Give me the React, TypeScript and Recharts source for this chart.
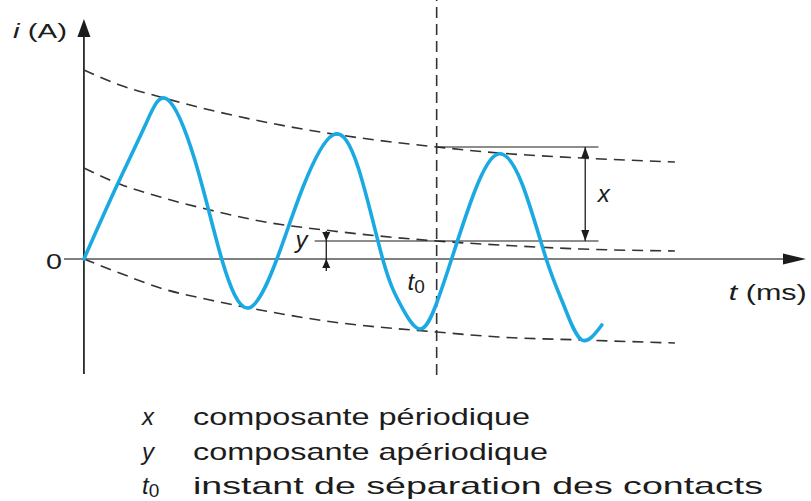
import React from "react";
import { ComposedChart, Line, XAxis, YAxis, ReferenceLine, ReferenceDot } from "recharts";

// short-circuit current, t in ms and i in A
const waveT = [
  0, 4.0, 7.4, 10.0, 13.4, 16.6, 19.8, 23.25, 26.4, 30.0, 33.1, 36.0,
  38.1, 40.5, 42.5, 44.3, 47.1, 49.9, 52.8, 55.7, 57.9, 60.0, 62.4,
];
const waveI = [
  0, 7.4, 13.4, 16.0, 9.8, 0, -4.9, 0, 7.2, 12.4, 9.0, 0,
  -4.5, -7.0, -4.4, 0, 6.8, 10.5, 7.5, 0, -4.8, -8.1, -6.6,
];

// envelopes: peak, aperiodic (DC) part, trough
const envT = [0, 4.3, 9.2, 15.2, 21.2, 30, 42.5, 50, 60, 71.2];
const envUpper = [18.9, 17.4, 16.2, 14.9, 13.8, 12.5, 11.2, 10.6, 10.1, 9.7];
const envMid = [9.1, 7.5, 6.2, 4.9, 3.8, 2.8, 1.8, 1.4, 1.0, 0.8];
const envLower = [0, -1.4, -2.9, -4.1, -5.1, -6.3, -7.3, -7.8, -8.1, -8.4];

// contact separation instant and the envelope values there
const T0 = 42.5;
const PEAK_AT_T0 = 11.2;
const DC_AT_T0 = 1.8;

const legendRows = [
  { sym: "x", sub: "", text: "composante périodique", len: 337 },
  { sym: "y", sub: "", text: "composante apériodique", len: 355 },
  { sym: "t", sub: "0", text: "instant de séparation des contacts", len: 570 },
];

const wave = waveT.map((t, k) => ({ t, i: waveI[k] }));
const envelopes = envT.map((t, k) => ({ t, up: envUpper[k], mid: envMid[k], low: envLower[k] }));

const FONT = '"Liberation Sans", Arial, sans-serif';
const INK = "#1c1c1c";
const BLUE = "#1aa9e2";
const DASH = "#333333";

type Dir = "up" | "down" | "right";

function arrowhead(dir: Dir, len: number, half: number) {
  return (p: any) => {
    const { cx, cy } = p;
    let pts: number[][];
    if (dir === "up") pts = [[cx, cy], [cx - half, cy + len], [cx + half, cy + len]];
    else if (dir === "down") pts = [[cx, cy], [cx - half, cy - len], [cx + half, cy - len]];
    else pts = [[cx, cy], [cx - len, cy - half], [cx - len, cy + half]];
    return <polygon points={pts.map((q) => q.join(",")).join(" ")} fill={INK} />;
  };
}

function tag(content: React.ReactNode, opts: { size?: number; italic?: boolean; len?: number; anchor?: string } = {}) {
  return (p: any) => (
    <text
      x={p.cx}
      y={p.cy}
      fontFamily={FONT}
      fontSize={opts.size ?? 22}
      fontStyle={opts.italic ? "italic" : "normal"}
      fill={INK}
      textAnchor={opts.anchor ?? "start"}
      textLength={opts.len}
      lengthAdjust={opts.len ? "spacingAndGlyphs" : undefined}
    >
      {content}
    </text>
  );
}

const envLine = { type: "monotone" as const, stroke: DASH, strokeWidth: 1.6, strokeDasharray: "11 7", dot: false, activeDot: false, isAnimationActive: false };

export default function App() {
  return (
    <div style={{ position: "absolute", left: 0, top: 0, width: 811, height: 501, background: "#fff" }}>
      <ComposedChart width={811} height={501} margin={{ top: 19, right: 5, bottom: 122, left: 64 }}>
        <XAxis type="number" dataKey="t" domain={[-2.4, 87]} hide allowDataOverflow />
        <YAxis type="number" domain={[-12, 24]} hide allowDataOverflow />

        {/* axes */}
        <ReferenceLine segment={[{ x: -2.4, y: 0 }, { x: 84.3, y: 0 }]} stroke="#555" strokeWidth={1.7} ifOverflow="visible" />
        <ReferenceLine segment={[{ x: 0, y: -11.5 }, { x: 0, y: 22.4 }]} stroke={INK} strokeWidth={1.7} ifOverflow="visible" />
        <ReferenceDot x={0} y={24} r={0} ifOverflow="visible" shape={arrowhead("up", 18, 6.5)} />
        <ReferenceDot x={87} y={0} r={0} ifOverflow="visible" shape={arrowhead("right", 23, 5.5)} />

        {/* separation instant */}
        <ReferenceLine
          segment={[{ x: T0, y: -11.6 }, { x: T0, y: 26 }]}
          stroke={DASH}
          strokeWidth={1.6}
          strokeDasharray="11 6"
          ifOverflow="visible"
        />

        <Line data={envelopes} dataKey="up" {...envLine} />
        <Line data={envelopes} dataKey="mid" {...envLine} />
        <Line data={envelopes} dataKey="low" {...envLine} />

        {/* x and y dimension marks */}
        <ReferenceLine segment={[{ x: T0, y: PEAK_AT_T0 }, { x: 62, y: PEAK_AT_T0 }]} stroke={INK} strokeWidth={1.2} ifOverflow="visible" />
        <ReferenceLine segment={[{ x: 27.8, y: DC_AT_T0 }, { x: 62, y: DC_AT_T0 }]} stroke={INK} strokeWidth={1.2} ifOverflow="visible" />
        <ReferenceLine segment={[{ x: 60.4, y: DC_AT_T0 }, { x: 60.4, y: PEAK_AT_T0 }]} stroke={INK} strokeWidth={1.3} ifOverflow="visible" />
        <ReferenceDot x={60.4} y={PEAK_AT_T0} r={0} ifOverflow="visible" shape={arrowhead("up", 11, 4)} />
        <ReferenceDot x={60.4} y={DC_AT_T0} r={0} ifOverflow="visible" shape={arrowhead("down", 11, 4)} />
        <ReferenceLine segment={[{ x: 29.2, y: -1.2 }, { x: 29.2, y: 2.8 }]} stroke={INK} strokeWidth={1.3} ifOverflow="visible" />
        <ReferenceDot x={29.2} y={DC_AT_T0} r={0} ifOverflow="visible" shape={arrowhead("down", 9, 4)} />
        <ReferenceDot x={29.2} y={0} r={0} ifOverflow="visible" shape={arrowhead("up", 9, 4)} />

        <Line data={wave} dataKey="i" type="natural" stroke={BLUE} strokeWidth={3.6} strokeLinecap="round" dot={false} activeDot={false} isAnimationActive={false} />

        {/* labels */}
        <ReferenceDot
          x={-8.55}
          y={22.1}
          r={0}
          ifOverflow="visible"
          shape={tag(
            <>
              <tspan fontStyle="italic">i</tspan> (A)
            </>,
            { size: 21, len: 54 }
          )}
        />
        <ReferenceDot x={-2.65} y={-1.0} r={0} ifOverflow="visible" shape={tag("0", { size: 22, anchor: "end", len: 16 })} />
        <ReferenceDot
          x={77.7}
          y={-4.1}
          r={0}
          ifOverflow="visible"
          shape={tag(
            <>
              <tspan fontStyle="italic">t</tspan> (ms)
            </>,
            { size: 22, len: 78 }
          )}
        />
        <ReferenceDot x={61.9} y={5.7} r={0} ifOverflow="visible" shape={tag("x", { size: 24, italic: true })} />
        <ReferenceDot x={25.5} y={1.1} r={0} ifOverflow="visible" shape={tag("y", { size: 24, italic: true })} />
        <ReferenceDot
          x={39.0}
          y={-3.1}
          r={0}
          ifOverflow="visible"
          shape={tag(
            <>
              <tspan fontStyle="italic">t</tspan>
              <tspan fontSize={19} dy={3}>0</tspan>
            </>,
            { size: 24 }
          )}
        />
      </ComposedChart>

      <svg width={811} height={501} style={{ position: "absolute", left: 0, top: 0, pointerEvents: "none" }}>
        {legendRows.map((row, k) => {
          const y = 425 + k * 34.5;
          return (
            <g key={row.text} fontFamily={FONT} fill={INK}>
              <text x={142} y={y} fontSize={24} fontStyle="italic">
                {row.sym}
                {row.sub && (
                  <tspan fontStyle="normal" fontSize={19} dy={3}>
                    {row.sub}
                  </tspan>
                )}
              </text>
              <text x={193} y={y} fontSize={24} textLength={row.len} lengthAdjust="spacingAndGlyphs">
                {row.text}
              </text>
            </g>
          );
        })}
      </svg>
    </div>
  );
}
